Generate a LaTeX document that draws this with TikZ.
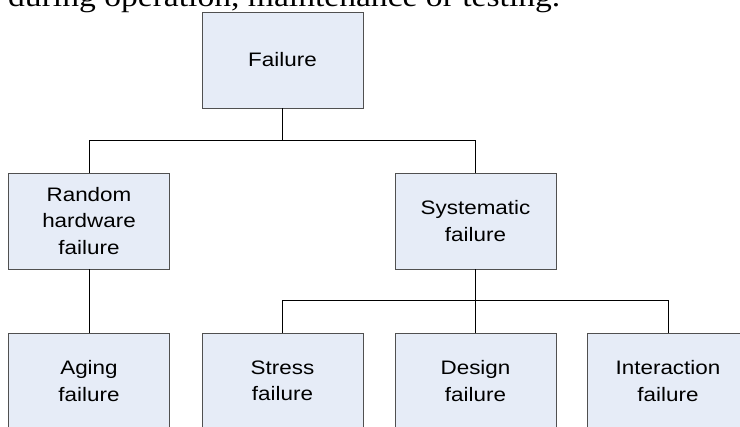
\documentclass[tikz,border=0pt]{standalone}
\usepackage{fontspec}
\newfontfamily\boxfont[FakeStretch=1.15]{Liberation Sans}
\newfontfamily\bodyfont[FakeStretch=1.15]{Liberation Serif}
\definecolor{boxfill}{RGB}{230,236,247}
\definecolor{boxline}{RGB}{80,80,80}
\begin{document}
\begin{tikzpicture}[x=1pt,y=-1pt,
  treebox/.style={draw=boxline, fill=boxfill, line width=0.9pt,
    minimum width=161pt, minimum height=96pt, inner sep=0pt,
    align=center, font={\fontsize{19.5}{26.5}\selectfont\boxfont}},
  link/.style={draw=black, line width=0.9pt}]
  \useasboundingbox (0,0) rectangle (740,427);
  \clip (0,0) rectangle (740,427);
  \fill[white] (0,0) rectangle (740,427);

  % running text above the chart
  \node[anchor=base west, inner sep=0pt, font={\fontsize{29.2}{32}\selectfont\bodyfont}]
    (caption) at (8,7) {during operation, maintenance or testing.};

  % boxes
  \node[treebox] (fail)  at (282.5,60)  {Failure};
  \node[treebox] (rand)  at (89,221)    {Random\\hardware\\failure};
  \node[treebox] (sys)   at (475.5,221) {Systematic\\failure};
  \node[treebox] (aging) at (89,381)    {Aging\\failure};
  \node[treebox] (stress) at (282.5,381) {Stress\\failure};
  \node[treebox] (design) at (475.5,381) {Design\\failure};
  \node[treebox] (inter)  at (668,381)   {Interaction\\failure};

  % connectors
  \draw[link] (fail.south) -- ++(0,32) coordinate (busA);
  \draw[link] (busA) -| (rand.north);
  \draw[link] (busA) -| (sys.north);
  \draw[link] (rand.south) -- (aging.north);
  \draw[link] (sys.south) -- ++(0,31) coordinate (busB);
  \draw[link] (busB) -| (stress.north);
  \draw[link] (busB) -- (design.north);
  \draw[link] (busB) -| (inter.north);
\end{tikzpicture}
\end{document}
